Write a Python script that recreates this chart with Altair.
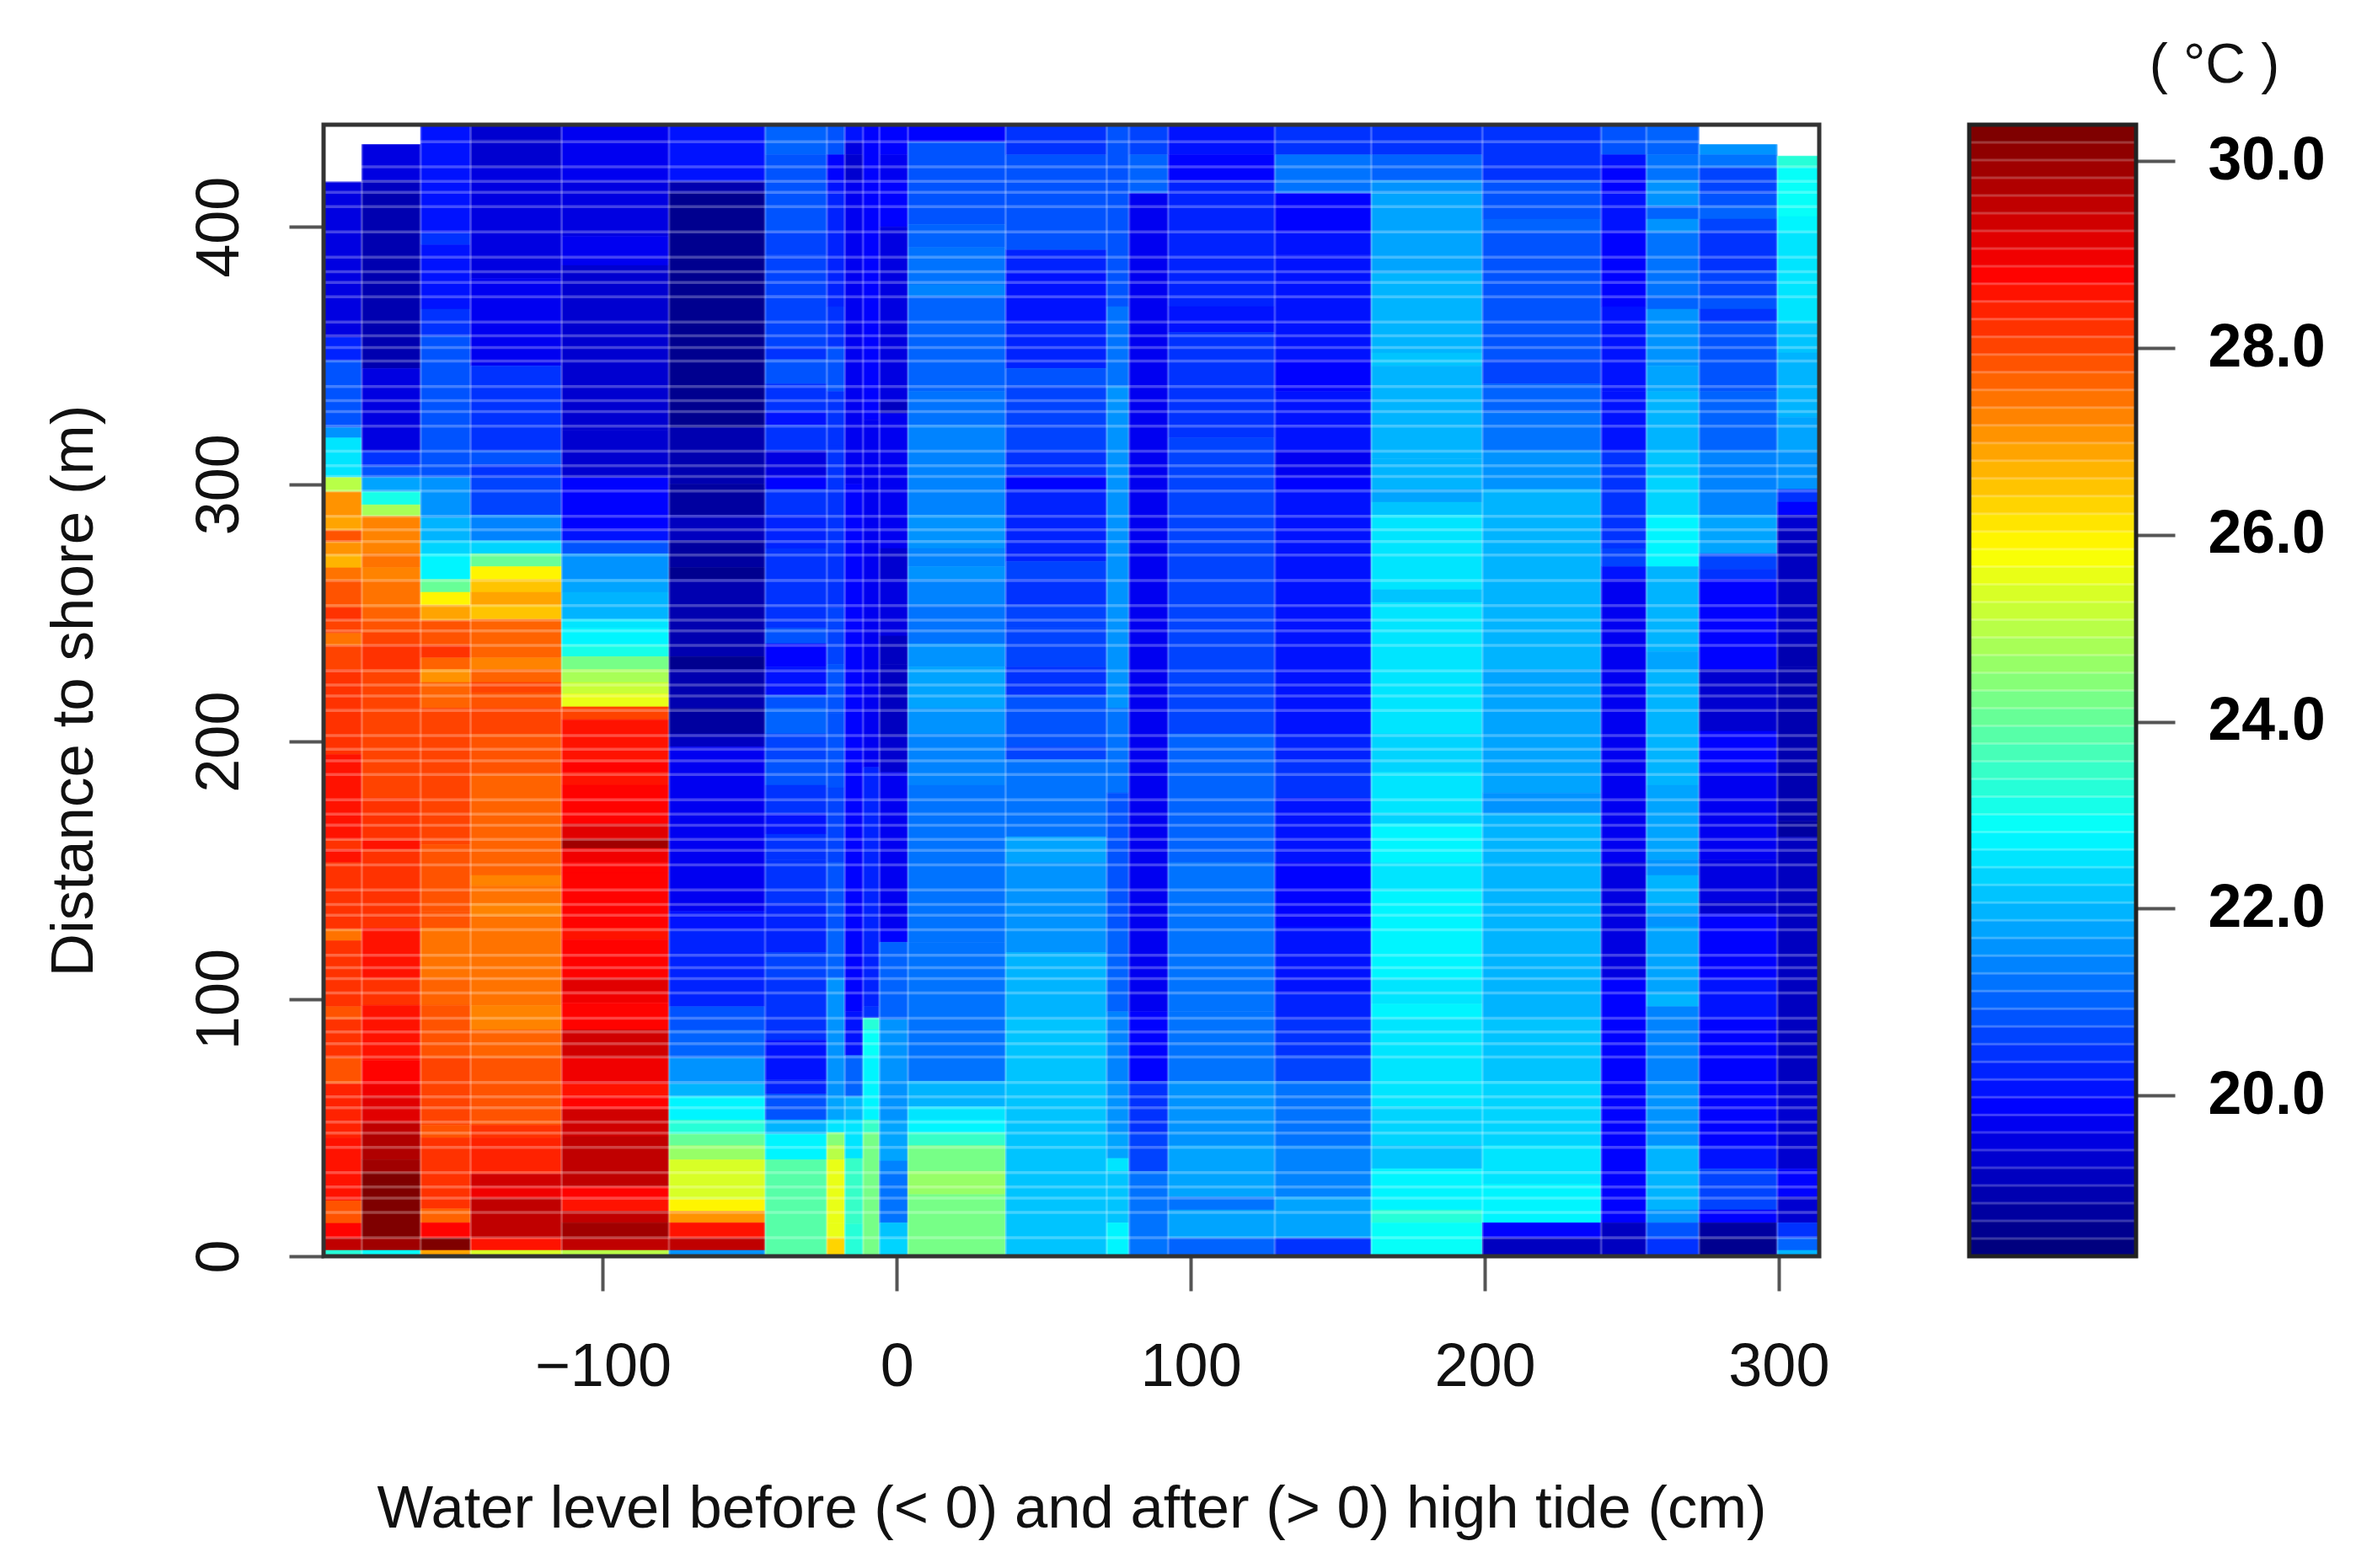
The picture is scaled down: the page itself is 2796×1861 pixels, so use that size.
import altair as alt

FONT = "Liberation Sans"

# column edges along the water-level axis (cm)
COL_EDGES = [-195, -182, -162, -145, -114, -77.5, -44.8, -23.8, -17.7, -11.5, -5.9, 3.8,
             37, 71.4, 79, 92.3, 128.6, 161.4, 199.2, 239.6, 255, 272.9, 299.5, 313.8]

# top of each column (m)
TOPS = [417.5, 432, 440, 440, 440, 440, 440, 440, 440, 440, 440, 440,
        440, 440, 440, 440, 440, 440, 440, 440, 440, 432, 427.5]

# each column: runs of (lower distance limit in m, temperature in deg C), top to bottom
C01 = [(357,19.6),(348,20.3),(322,20.85),(318,21.5),(302.6,22.6),(297,25.0),(287.5,27.16),(282,26.85),(277.5,27.92),(272.5,27.05),(267.5,26.78),(262.6,27.5),(252,27.85),(247,28.3),(242,28.1),(237.4,27.4),(228,28.1),(213,28.15),(195,28.3),(168,28.5),(162,28.68),(158,28.3),(153,28.5),(127,28.2),(122.6,27.54),(97,28.2),(92,27.9),(77,28.3),(67,27.9),(46,28.45),(21.6,28.62),(12.8,27.92),(7,28.87),(2.3,29.55),(0,23.2)]
C02 = [(418,19.5),(413,19.1),(398,18.85),(345,19.0),(313,19.6),(307,20.4),(302.6,20.9),(297,21.8),(292,23.1),(287.5,24.8),(273,27.25),(267.6,27.54),(262.6,27.36),(252,27.54),(247,27.73),(242.3,27.92),(237.4,28.11),(228,28.3),(213,28.1),(178,27.95),(161.5,28.3),(158,28.6),(127.5,28.3),(108,28.5),(97.5,28.3),(92.5,28.6),(76,28.5),(67,28.87),(62,28.95),(52,29.1),(47.5,29.5),(37.5,29.8),(32.5,29.95),(7,30.3),(2.3,29.95),(0,23.0)]
C03 = [(397.6,20.0),(393,20.4),(368,20.05),(357.5,20.5),(302.6,20.75),(287,21.5),(278,21.95),(273,22.3),(263,22.82),(258,24.1),(253,25.85),(247,26.97),(237.4,27.9),(232.5,28.3),(228,27.7),(223,27.16),(213,27.6),(162,28.0),(160,28.1),(134,27.9),(127.5,27.75),(108,27.5),(97.5,27.65),(77,27.85),(51,27.95),(46,27.8),(18.4,28.3),(13,27.6),(7,28.87),(2.3,30.3),(0,26.9)]
C04 = [(434,19.4),(423,19.25),(380,19.55),(346,19.7),(313,20.5),(307.5,20.8),(302.6,20.4),(288,20.7),(278,21.4),(273,22.3),(268,24.1),(263,26.0),(258,26.6),(253,26.97),(247.5,26.45),(232.5,27.6),(228,27.2),(223,27.7),(219,28.1),(213,27.9),(203,28.1),(187,27.9),(148,27.73),(144,27.36),(137,27.5),(132,27.2),(127.5,27.5),(108,27.45),(97.5,27.45),(88,27.3),(77,27.6),(51,27.92),(46,28.2),(32,28.4),(27,29.3),(22.5,29.05),(7,29.63),(2.3,28.5),(0,25.3)]
C05 = [(417.5,19.75),(396.4,19.5),(385,19.7),(321,19.4),(302.6,19.25),(282,19.8),(278,20.0),(273,20.9),(263,21.5),(258,21.7),(247.5,22.05),(244,22.5),(237.5,22.82),(233,23.1),(228,24.3),(223,24.9),(218.5,25.2),(213.5,25.5),(208.5,28.1),(203,28.5),(192,28.68),(188,28.87),(183,28.68),(168,28.87),(162,29.2),(158.5,29.9),(153,29.05),(149,28.87),(127.5,28.75),(123,28.68),(108,28.87),(103,29.1),(98.5,29.0),(88,28.87),(77,29.35),(67,29.05),(62,28.68),(57,28.87),(46.5,29.35),(32.5,29.5),(27,29.45),(22,28.87),(17.5,28.68),(13,29.45),(7,29.9),(2.3,29.45),(0,25.0)]
C06 = [(417.5,20.0),(413,18.9),(398,18.5),(349,18.65),(322,18.6),(300,18.9),(288,18.7),(278,19.1),(267.6,18.8),(263,18.5),(233,19.0),(228,18.6),(213,18.9),(203,18.8),(198,19.05),(134,19.75),(127,20.15),(97,20.35),(88,20.9),(77,21.1),(67,21.5),(62,22.05),(53,22.8),(47.5,23.3),(43,24.0),(37.5,24.7),(22,25.3),(17.5,25.85),(13,27.0),(7,28.68),(2.3,29.63),(0,21.5)]
C07 = [(428,21.05),(418,20.8),(413,20.9),(398,20.8),(389,20.7),(373.5,20.7),(353,20.6),(348.5,20.4),(339,20.9),(328,20.5),(323,20.15),(313,20.4),(303,19.5),(298,19.9),(288,20.4),(275,20.3),(263,20.4),(253,20.55),(244,20.55),(238,20.8),(229,19.95),(218,20.15),(213,20.9),(203,21.1),(193,20.6),(183,20.9),(172,20.55),(164,20.15),(154,20.55),(137,20.4),(128,20.35),(118,20.3),(108,20.7),(84,20.5),(68.5,20.15),(63,20.3),(53,20.9),(47.5,22.05),(37.5,22.82),(0,23.8)]
C08 = [(428,20.9),(418,19.95),(413,20.15),(398,20.35),(369,20.3),(353,20.4),(336,20.9),(315,20.55),(252,20.45),(230,20.7),(211,20.9),(182,20.8),(153,20.7),(127,20.9),(108,21.1),(62,21.5),(53,21.8),(48,22.6),(43,24.5),(37.5,25.0),(13,25.5),(7,25.6),(0,26.4)]
C09 = [(433,20.0),(428,19.5),(418,19.3),(300,19.7),(95,19.8),(78,20.15),(62,21.1),(53,22.05),(38,22.6),(12.5,23.4),(0,23.3)]
C10 = [(325,19.8),(190,19.75),(97,20.3),(92.5,20.55),(88,23.2),(78,23.0),(53,22.82),(48,23.4),(0,24.3)]
C11 = [(428,19.8),(418,19.65),(400,19.8),(332,19.6),(327.5,19.2),(275,19.75),(263,19.4),(241,19.55),(230,19.2),(202,19.05),(188,19.3),(127,19.7),(122,19.95),(92,21.1),(53,21.5),(37,21.7),(32,21.4),(13,21.2),(7,22.1),(0,22.35)]
C12 = [(433,19.8),(418,20.85),(401,20.75),(392,20.95),(377.5,21.15),(373,21.45),(336,21.05),(323,21.15),(313,21.35),(288,21.35),(275,21.55),(268,21.35),(263,21.65),(253,21.35),(238,21.25),(229,21.55),(213,21.75),(203,21.55),(183,21.45),(122,21.25),(92,21.2),(68,21.3),(58,22.05),(53,22.6),(48,22.8),(43,23.5),(33,24.3),(24,24.6),(0,24.3)]
C13 = [(428,20.5),(391,20.75),(382,20.2),(373,20.15),(363,20.0),(345,20.3),(338,20.85),(323,20.7),(313,20.7),(303,20.5),(298,19.9),(270,20.25),(263,20.65),(253,20.5),(244,20.7),(229,20.7),(218,20.55),(198,20.9),(193,20.7),(163,21.3),(153,21.7),(118,21.5),(108,22.05),(92,21.95),(0,22.2)]
C14 = [(369,20.9),(338,21.3),(275,21.6),(213,21.5),(180,21.15),(127,20.85),(95,21.0),(68,21.4),(48,21.5),(38,21.7),(33,22.5),(13,22.2),(0,22.82)]
C15 = [(428,20.7),(413,21.1),(95,19.65),(68,19.95),(48,20.4),(33,20.7),(0,21.3)]
C16 = [(428,20.05),(418,19.85),(369,20.3),(359,20.05),(318,20.4),(203,20.7),(153,21.1),(95,21.15),(68,21.3),(43,21.5),(23,21.7),(18,21.3),(7,21.7),(0,21.1)]
C17 = [(428,20.55),(413,21.3),(398,19.85),(389,20.0),(373,20.15),(363,20.05),(348.5,20.15),(336,19.9),(323,20.15),(313,20.05),(303,19.7),(298,19.85),(263,20.05),(253,20.15),(203,20.05),(193,20.3),(178,20.4),(153,20.15),(132,19.95),(128,19.8),(108,20.05),(102,20.15),(92,20.3),(78,20.5),(68,20.7),(43,21.2),(23,21.4),(7,21.7),(0,20.5)]
C18 = [(428,20.45),(418,21.1),(413,21.5),(398,21.8),(382,21.85),(351,22.05),(346,22.25),(323,22.0),(310,22.05),(298,21.9),(293,21.8),(288,22.15),(282,22.5),(259,22.6),(254,22.2),(203,22.6),(188,22.4),(172,22.5),(168,22.4),(153,22.75),(142,22.5),(108,22.82),(98,22.6),(92.5,22.82),(58,22.6),(43,22.4),(34,22.2),(18,22.75),(13,23.2),(0,23.0)]
C19 = [(418,20.55),(403,20.9),(398,21.1),(348.5,20.8),(339,20.6),(328,21.1),(313,21.3),(298,21.6),(275,21.95),(259,22.0),(228,22.05),(212,21.8),(180,21.8),(172,21.6),(153,22.0),(108,21.9),(92,22.05),(68,22.15),(43,22.35),(33,22.45),(28,22.6),(13,22.82),(7,19.8),(0,19.15)]
C20 = [(428,20.9),(423,20.05),(418,19.8),(413,19.95),(398,20.15),(369,19.85),(336,20.05),(313,20.15),(303,20.4),(275,20.55),(268,20.7),(263,20.15),(203,19.7),(153,19.75),(108,19.6),(13,19.95),(7,19.15),(0,19.2)]
C21 = [(428,21.0),(418,21.3),(408,21.5),(403,21.1),(398,21.5),(373,21.3),(368,21.1),(346,21.5),(336,21.7),(323,21.9),(313,22.05),(303,22.25),(288,22.35),(268,22.82),(263,22.0),(235,22.05),(228,21.8),(183,21.9),(154,21.8),(148,21.5),(137,21.9),(133,21.7),(128,21.5),(102,21.7),(97,21.9),(68,21.4),(43,21.6),(18,21.9),(13,21.6),(7,20.9),(0,20.5)]
C22 = [(428,21.6),(423,21.2),(413,20.7),(408,20.8),(403,21.1),(398,20.7),(383,20.55),(373,20.6),(368,20.9),(363,20.55),(336,20.8),(313,21.1),(288,21.4),(273,21.7),(267,20.7),(263,20.45),(228,19.95),(212,19.4),(204,19.3),(188,19.8),(154,19.7),(138,19.5),(133,19.3),(108,19.8),(92,20.05),(78,19.8),(43,19.9),(34,20.15),(18,20.6),(13,19.95),(7,18.7),(0,18.5)]
C23 = [(423,23.2),(404,23.0),(398,22.82),(363,22.55),(351,22.2),(326,21.9),(313,21.8),(298,21.5),(293,20.5),(288,19.8),(282,19.4),(237,19.1),(229,18.85),(169,19.0),(163,18.75),(68,19.2),(34,19.4),(23,19.85),(13,19.3),(7,20.5),(2.3,21.1),(0,22.0)]
COLUMNS = [C01, C02, C03, C04, C05, C06, C07, C08, C09, C10, C11, C12,
           C13, C14, C15, C16, C17, C18, C19, C20, C21, C22, C23]

# pale seams of the raster image (m)
SEAMS_Y = [433.1,423.3,417.7,413.4,407.9,398.0,388.2,382.6,378.4,372.8,363.0,357.7,353.1,347.9,338.0,332.5,328.2,322.6,
           312.8,307.2,303.0,297.4,287.5,282.3,277.7,272.5,262.6,252.8,247.2,243.0,237.4,227.5,222.0,217.7,212.1,202.3,
           197.0,192.5,187.2,177.4,171.8,167.5,162.0,157.7,152.1,142.3,136.7,132.5,126.9,117.0,112.1,107.9,102.3,92.5,
           87.2,82.6,77.4,67.5,62.0,57.7,52.1,47.9,42.3,32.5,26.9,22.6,17.0,7.2]

X_TICKS = [-100, 0, 100, 200, 300]
Y_TICKS = [0, 100, 200, 300, 400]
BAR_TICKS = [20, 22, 24, 26, 28, 30]
TEMP_MIN, TEMP_MAX = 18.28, 30.39
N_LEVELS = 64
JET_STOPS = ["#00007F", "#0000FF", "#007FFF", "#00FFFF", "#7FFF7F", "#FFFF00", "#FF7F00", "#FF0000", "#7F0000"]


def ramp(stops, n):
    rgb = [[int(s[i:i + 2], 16) for i in (1, 3, 5)] for s in stops]
    out = []
    for k in range(n):
        p = k / (n - 1) * (len(rgb) - 1)
        i = min(int(p), len(rgb) - 2)
        f = p - i
        out.append("#%02x%02x%02x" % tuple(round(a + (b - a) * f) for a, b in zip(rgb[i], rgb[i + 1])))
    return out


JET = ramp(JET_STOPS, N_LEVELS)
color_scale = alt.Scale(type="quantize", domain=[TEMP_MIN, TEMP_MAX], range=JET)

cells = []
for i, col in enumerate(COLUMNS):
    upper = TOPS[i]
    for lower, temp in col:
        cells.append({"x0": COL_EDGES[i], "x1": COL_EDGES[i + 1], "y0": lower, "y1": upper, "t": temp})
        upper = lower

W, H = 1775, 1343
BAR_W = 198
x_scale = alt.Scale(domain=[-195, 313.8], nice=False, zero=False)
y_scale = alt.Scale(domain=[0, 439.7], nice=False, zero=False)

heat = alt.Chart(alt.Data(values=cells)).mark_rect(strokeWidth=0.6).encode(
    x=alt.X("x0:Q", scale=x_scale, axis=alt.Axis(
        values=X_TICKS, format="d", grid=False, domain=False, tickSize=41, tickWidth=4, tickColor="#555555",
        labelFont=FONT, labelFontSize=72, labelColor="#111111", labelPadding=55, labelOverlap=False, labelFlush=False,
        title="Water level before (< 0) and after (> 0) high tide (cm)",
        titleFont=FONT, titleFontSize=70.6, titleFontWeight="normal", titleColor="#111111", titlePadding=98)),
    x2="x1:Q",
    y=alt.Y("y0:Q", scale=y_scale, axis=alt.Axis(
        values=Y_TICKS, format="d", grid=False, domain=False, tickSize=41, tickWidth=4, tickColor="#555555",
        labelFont=FONT, labelFontSize=72, labelColor="#111111", labelAngle=270, labelAlign="center",
        labelBaseline="bottom", labelPadding=46, labelOverlap=False, labelFlush=False,
        title="Distance to shore (m)",
        titleFont=FONT, titleFontSize=71, titleFontWeight="normal", titleColor="#111111", titlePadding=100)),
    y2="y1:Q",
    color=alt.Color("t:Q", scale=color_scale, legend=None),
    stroke=alt.Stroke("t:Q", scale=color_scale, legend=None),
)

seam_h = alt.Chart(alt.Data(values=[{"y": v} for v in SEAMS_Y])).mark_rule(
    color="white", opacity=0.26, size=3.5).encode(y=alt.Y("y:Q", scale=y_scale))
seam_v = alt.Chart(alt.Data(values=[{"x": v} for v in COL_EDGES[1:-1]])).mark_rule(
    color="white", opacity=0.22, size=3).encode(x=alt.X("x:Q", scale=x_scale))
frame = alt.Chart(alt.Data(values=[{"a": 1}])).mark_rect(
    fill=None, stroke="#333333", strokeWidth=5).encode(
    x=alt.value(0), x2=alt.value(W), y=alt.value(0), y2=alt.value(H))

left = alt.layer(heat, seam_h, seam_v, frame).properties(width=W, height=H)

step = (TEMP_MAX - TEMP_MIN) / N_LEVELS
levels = [{"y0": TEMP_MIN + k * step, "y1": TEMP_MIN + (k + 1) * step, "t": TEMP_MIN + (k + 0.5) * step}
          for k in range(N_LEVELS)]
bar_scale = alt.Scale(domain=[TEMP_MIN, TEMP_MAX], nice=False, zero=False)

bar = alt.Chart(alt.Data(values=levels)).mark_rect(strokeWidth=0.6).encode(
    x=alt.value(0), x2=alt.value(BAR_W),
    y=alt.Y("y0:Q", scale=bar_scale, axis=alt.Axis(
        orient="right", values=BAR_TICKS, format=".1f", grid=False, domain=False, tickSize=46, tickWidth=4,
        tickColor="#555555", labelFont=FONT, labelFontSize=71.5, labelFontWeight="bold", labelColor="#000000",
        labelPadding=39, labelOverlap=False, labelFlush=False, title=None)),
    y2="y1:Q",
    color=alt.Color("t:Q", scale=color_scale, legend=None),
    stroke=alt.Stroke("t:Q", scale=color_scale, legend=None),
)
bar_seams = alt.Chart(alt.Data(values=[{"y": d["y1"]} for d in levels[:-1]])).mark_rule(
    color="white", opacity=0.22, size=3).encode(y=alt.Y("y:Q", scale=bar_scale))
bar_frame = alt.Chart(alt.Data(values=[{"a": 1}])).mark_rect(
    fill=None, stroke="#222222", strokeWidth=5).encode(
    x=alt.value(0), x2=alt.value(BAR_W), y=alt.value(0), y2=alt.value(H))
bar_title = alt.Chart(alt.Data(values=[{"label": "( °C )"}])).mark_text(
    font=FONT, fontSize=66, color="#111111", align="center", baseline="middle").encode(
    x=alt.value(291), y=alt.value(-70), text="label:N")

right = alt.layer(bar, bar_seams, bar_frame, bar_title).properties(width=BAR_W, height=H)

chart = alt.hconcat(left, right, spacing=178, bounds="flush").resolve_scale(
    color="independent", stroke="independent", x="independent", y="independent"
).properties(
    padding={"left": 44, "top": 37, "right": 10, "bottom": 20}, background="white"
).configure_view(stroke=None)

chart.save("out.html", embed_options={"renderer": "svg", "actions": False})
